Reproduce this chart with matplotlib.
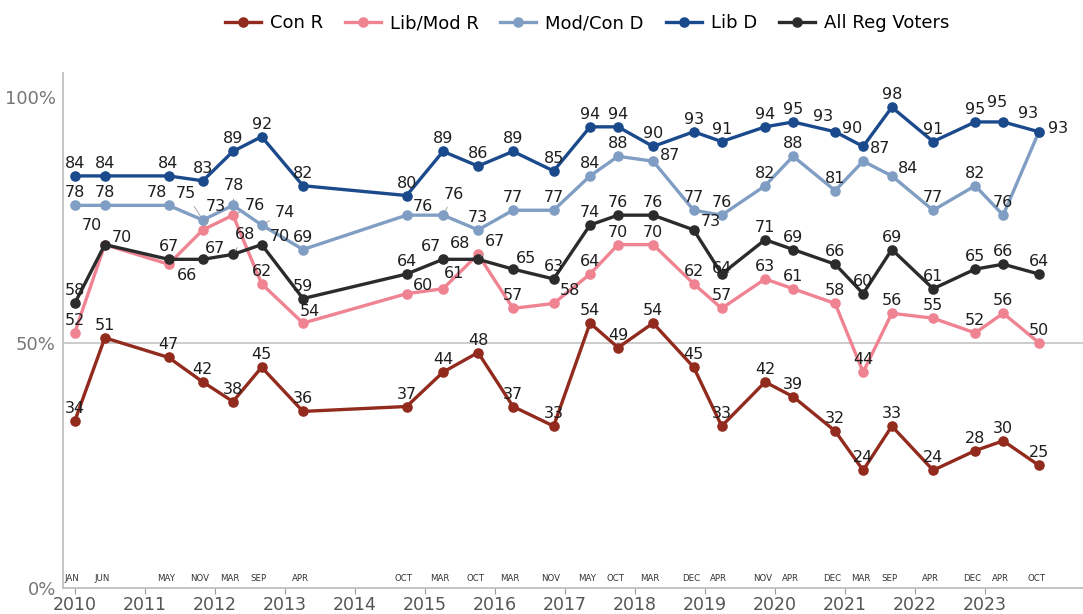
import matplotlib.pyplot as plt

# survey dates as decimal years, with their month labels
dates = [2010.0, 2010.43, 2011.34, 2011.83, 2012.26, 2012.67, 2013.26, 2014.74,
         2015.26, 2015.76, 2016.26, 2016.84, 2017.36, 2017.76, 2018.26, 2018.84,
         2019.24, 2019.86, 2020.26, 2020.86, 2021.26, 2021.67, 2022.26, 2022.86,
         2023.26, 2023.77]
months = ['JAN', 'JUN', 'MAY', 'NOV', 'MAR', 'SEP', 'APR', 'OCT', 'MAR', 'OCT',
          'MAR', 'NOV', 'MAY', 'OCT', 'MAR', 'DEC', 'APR', 'NOV', 'APR', 'DEC',
          'MAR', 'SEP', 'APR', 'DEC', 'APR', 'OCT']

con_r = [34, 51, 47, 42, 38, 45, 36, 37, 44, 48, 37, 33, 54, 49, 54, 45, 33, 42,
         39, 32, 24, 33, 24, 28, 30, 25]
libmod_r = [52, 70, 66, 73, 76, 62, 54, 60, 61, 68, 57, 58, 64, 70, 70, 62, 57,
            63, 61, 58, 44, 56, 55, 52, 56, 50]
modcon_d = [78, 78, 78, 75, 78, 74, 69, 76, 76, 73, 77, 77, 84, 88, 87, 77, 76,
            82, 88, 81, 87, 84, 77, 82, 76, 93]
lib_d = [84, 84, 84, 83, 89, 92, 82, 80, 89, 86, 89, 85, 94, 94, 90, 93, 91, 94,
         95, 93, 90, 98, 91, 95, 95, 93]
all_reg = [58, 70, 67, 67, 68, 70, 59, 64, 67, 67, 65, 63, 74, 76, 76, 73, 64, 71,
           69, 66, 60, 69, 61, 65, 66, 64]

years = list(range(2010, 2024))

# label tweaks: index -> (dx, dy, leader line)
D = (0, 9, False)
con_r_off = {}
libmod_off = {1: (-9, 14, False), 2: (13, -8, False), 3: (9, 17, True),
              4: (16, 7, True), 6: (5, 8, False), 7: (12, 6, False),
              8: (8, 11, False), 9: (-13, 8, False), 11: (12, 9, False)}
modcon_off = {2: (-8, 9, False), 3: (-12, 19, True), 4: (1, 14, True),
              5: (17, 9, True), 7: (12, 6, False), 8: (8, 15, True),
              14: (12, 4, False), 20: (12, 9, False), 21: (12, 5, False),
              25: (14, 2, False)}
libd_off = {19: (-9, 11, False), 20: (-8, 13, False), 24: (-4, 14, False),
            25: (-8, 13, False)}
all_off = {1: (12, 5, False), 3: (9, 8, False), 4: (9, 14, True),
           5: (13, 6, False), 8: (-9, 9, False), 9: (12, 13, True),
           10: (9, 8, False), 15: (12, 6, False), 16: (0, 4, False)}

series = [
    ('Con R', con_r, '#922a1d', con_r_off),
    ('Lib/Mod R', libmod_r, '#ef8391', libmod_off),
    ('Mod/Con D', modcon_d, '#809ec4', modcon_off),
    ('Lib D', lib_d, '#1b4a8c', libd_off),
    ('All Reg Voters', all_reg, '#2b2b2b', all_off),
]

fig = plt.figure(figsize=(10.83, 6.14), dpi=100)
ax = fig.add_axes([0.058, 0.0423, 0.942, 0.839])

ax.axhline(50, color='#c8c8c8', lw=1.3, zorder=0)

for name, vals, col, offs in series:
    ax.plot(dates, vals, color=col, lw=2.4, marker='o', markersize=6.6,
            label=name, zorder=3)
for name, vals, col, offs in series:
    for i, (x, v) in enumerate(zip(dates, vals)):
        dx, dy, lead = offs.get(i, D)
        kw = {}
        if lead:
            kw['arrowprops'] = dict(arrowstyle='-', color='#999999', lw=0.6,
                                    shrinkA=2, shrinkB=3)
        ax.annotate(str(v), (x, v), xytext=(dx, dy), textcoords='offset points',
                    ha='center', va='center', fontsize=11.5, color='#1e1e1e',
                    zorder=5, **kw)

for x, m in zip(dates, months):
    ax.annotate(m, (x, 0), xytext=(-2, 7), textcoords='offset points',
                ha='center', va='center', fontsize=6.2, color='#333333')

ax.set_xlim(2009.83, 2024.4)
ax.set_ylim(0, 105)
ax.set_xticks(years)
ax.set_xticklabels([str(y) for y in years])
ax.set_yticks([0, 50, 100])
ax.set_yticklabels(['0%', '50%', '100%'])
ax.tick_params(axis='x', length=4, color='#999999', labelsize=12.5,
               labelcolor='#555555', pad=2)
ax.tick_params(axis='y', length=0, labelsize=13, labelcolor='#777777', pad=5)

for s in ['top', 'right']:
    ax.spines[s].set_visible(False)
ax.spines['left'].set_color('#bbbbbb')
ax.spines['bottom'].set_color('#bbbbbb')
ax.spines['left'].set_linewidth(1.2)
ax.spines['bottom'].set_linewidth(1.2)

fig.legend(loc='center', bbox_to_anchor=(0.542, 0.9625), ncol=5, frameon=False,
           fontsize=13, handlelength=2.0, columnspacing=1.2, handletextpad=0.5)

fig.savefig('out.png', dpi=100)
